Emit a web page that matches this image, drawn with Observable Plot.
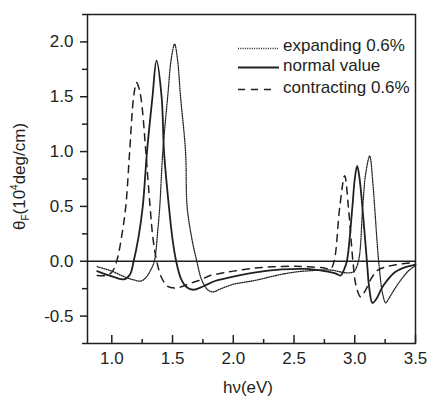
<!DOCTYPE html>
<html>
<head>
<meta charset="utf-8">
<script src="https://cdn.jsdelivr.net/npm/d3@7"></script>
<script src="https://cdn.jsdelivr.net/npm/@observablehq/plot@0.6"></script>
<style>
  html, body { margin: 0; padding: 0; background: #fff; }
  #chart svg { display: block; }
</style>
</head>
<body>
<div id="chart"></div>
<script>
// ---- data ----
const seriesNames = ["expanding 0.6%", "normal value", "contracting 0.6%"];

const expandingX = [0.88, 1.0, 1.1, 1.18, 1.24, 1.28, 1.32, 1.35, 1.38, 1.395, 1.42, 1.46, 1.49, 1.517, 1.54, 1.566, 1.607, 1.62, 1.66, 1.70, 1.74, 1.79, 1.83, 1.9, 2.0, 2.1, 2.2, 2.35, 2.5, 2.65, 2.8, 2.925, 2.99, 3.03, 3.065, 3.09, 3.123, 3.15, 3.164, 3.197, 3.23, 3.255, 3.28, 3.33, 3.38, 3.44, 3.5];
const expandingY = [-0.05, -0.09, -0.14, -0.17, -0.18, -0.15, -0.08, 0.0, 0.3, 0.5, 1.0, 1.5, 1.85, 1.98, 1.85, 1.5, 1.0, 0.5, 0.2, 0.0, -0.17, -0.26, -0.28, -0.25, -0.21, -0.19, -0.17, -0.13, -0.10, -0.085, -0.08, -0.105, -0.095, 0.0, 0.49, 0.8, 0.96, 0.7, 0.49, 0.0, -0.3, -0.38, -0.34, -0.25, -0.17, -0.09, -0.04];

const normalX = [0.88, 0.95, 1.02, 1.10, 1.15, 1.18, 1.22, 1.255, 1.29, 1.335, 1.368, 1.41, 1.43, 1.47, 1.50, 1.53, 1.57, 1.62, 1.67, 1.75, 1.85, 1.92, 2.0, 2.2, 2.4, 2.6, 2.75, 2.84, 2.884, 2.91, 2.935, 2.98, 3.0, 3.02, 3.04, 3.063, 3.10, 3.12, 3.145, 3.18, 3.22, 3.27, 3.33, 3.4, 3.5];
const normalY = [-0.09, -0.12, -0.145, -0.165, -0.12, 0.0, 0.22, 0.5, 1.0, 1.5, 1.83, 1.5, 1.0, 0.5, 0.2, 0.0, -0.16, -0.24, -0.26, -0.23, -0.18, -0.16, -0.14, -0.10, -0.075, -0.07, -0.09, -0.11, -0.13, -0.08, 0.0, 0.49, 0.75, 0.87, 0.75, 0.49, 0.0, -0.25, -0.38, -0.34, -0.25, -0.17, -0.10, -0.06, -0.03];

const contractingX = [0.88, 0.95, 1.0, 1.04, 1.08, 1.115, 1.147, 1.18, 1.204, 1.23, 1.25, 1.28, 1.315, 1.34, 1.37, 1.41, 1.46, 1.52, 1.58, 1.65, 1.73, 1.81, 1.9, 2.0, 2.2, 2.47, 2.6, 2.74, 2.80, 2.83, 2.876, 2.917, 2.948, 2.985, 3.01, 3.049, 3.09, 3.14, 3.19, 3.3, 3.5];
const contractingY = [-0.13, -0.13, -0.10, 0.0, 0.22, 0.5, 1.0, 1.5, 1.63, 1.55, 1.4, 1.0, 0.5, 0.2, 0.0, -0.15, -0.23, -0.245, -0.23, -0.2, -0.17, -0.13, -0.11, -0.09, -0.06, -0.045, -0.05, -0.06, -0.07, 0.0, 0.49, 0.78, 0.49, 0.0, -0.22, -0.325, -0.26, -0.15, -0.08, -0.04, -0.01];

const xTicks = [1.0, 1.5, 2.0, 2.5, 3.0, 3.5];
const xMinorTicks = [1.25, 1.75, 2.25, 2.75, 3.25];
const yTicks = [-0.5, 0.0, 0.5, 1.0, 1.5, 2.0];
const yMinorTicks = [-0.75, -0.25, 0.25, 0.75, 1.25, 1.75, 2.25];

// ---- build table ----
const toRows = (xs, ys, name) => xs.map((x, i) => ({x, y: ys[i], series: name}));
const expanding = toRows(expandingX, expandingY, seriesNames[0]);
const normal = toRows(normalX, normalY, seriesNames[1]);
const contracting = toRows(contractingX, contractingY, seriesNames[2]);

const ink = "#231f20";
const W = 429, H = 396;
const mL = 87, mR = 14, mT = 14, mB = 53;
const plotH = H - mT - mB;

const chart = Plot.plot({
  width: W,
  height: H,
  marginLeft: mL,
  marginRight: mR,
  marginTop: mT,
  marginBottom: mB,
  style: {fontFamily: "'Liberation Sans', Arial, Helvetica, sans-serif", fontSize: "17px", color: ink, background: "#fff"},
  x: {domain: [0.8, 3.5], label: null},
  y: {domain: [-0.75, 2.25], label: null},
  marks: [
    // curves
    Plot.line(expanding, {x: "x", y: "y", curve: "catmull-rom", stroke: ink, strokeWidth: 1.3, strokeDasharray: "1,1.3"}),
    Plot.line(normal, {x: "x", y: "y", curve: "catmull-rom", stroke: ink, strokeWidth: 1.8}),
    Plot.line(contracting, {x: "x", y: "y", curve: "catmull-rom", stroke: ink, strokeWidth: 1.5, strokeDasharray: "7,6"}),
    // zero line
    Plot.ruleY([0], {stroke: ink, strokeWidth: 1.3}),
    // frame
    Plot.frame({stroke: ink, strokeWidth: 1.5}),
    // x axis: labels + inward ticks
    Plot.axisX(xTicks, {anchor: "bottom", tickSize: 0, tickPadding: 8, tickFormat: d => d.toFixed(1), fill: ink}),
    Plot.tickX(xTicks, {x: d => d, insetTop: plotH - 8, stroke: ink, strokeWidth: 1.5}),
    Plot.tickX(xMinorTicks, {x: d => d, insetTop: plotH - 4, stroke: ink, strokeWidth: 1.5}),
    // y axis: outward ticks
    Plot.axisY(yTicks, {anchor: "left", tickSize: 7, tickPadding: 7, tickFormat: d => d.toFixed(1), stroke: ink, strokeWidth: 1.5, fill: ink}),
    Plot.axisY(yMinorTicks, {anchor: "left", tickSize: 5, tickFormat: () => "", stroke: ink, strokeWidth: 1.5})
  ]
});

document.getElementById("chart").appendChild(chart);

// ---- axis titles and legend ----
const svg = d3.select(chart);
const font = "'Liberation Sans', Arial, Helvetica, sans-serif";

// x title
svg.append("text")
  .attr("x", (mL + (W - mR)) / 2 - 3)
  .attr("y", 393)
  .attr("text-anchor", "middle")
  .attr("font-family", font)
  .attr("font-size", 17)
  .attr("fill", ink)
  .text("hν(eV)");

// y title with subscript / superscript
const yt = svg.append("text")
  .attr("transform", `translate(25,${(mT + (H - mB)) / 2 - 2}) rotate(-90)`)
  .attr("text-anchor", "middle")
  .attr("font-family", font)
  .attr("font-size", 17)
  .attr("fill", ink);
yt.append("tspan").text("θ");
yt.append("tspan").attr("font-size", 10).attr("dy", "4").text("F");
yt.append("tspan").attr("dy", "-4").text("(10");
yt.append("tspan").attr("font-size", 10).attr("dy", "-7").text("4");
yt.append("tspan").attr("dy", "7").text("deg/cm)");

// legend
const legend = [
  {name: seriesNames[0], dash: "1,1.3", sw: 1.3, ly: 48.5, ty: 51, x2: 278},
  {name: seriesNames[1], dash: null, sw: 1.8, ly: 67.5, ty: 71, x2: 279},
  {name: seriesNames[2], dash: "7,6", sw: 1.5, ly: 89.5, ty: 93, x2: 274}
];
const lg = svg.append("g").attr("text-anchor", "start");
legend.forEach(d => {
  lg.append("line")
    .attr("x1", 238).attr("x2", d.x2)
    .attr("y1", d.ly).attr("y2", d.ly)
    .attr("stroke", ink)
    .attr("stroke-width", d.sw)
    .attr("stroke-dasharray", d.dash);
  lg.append("text")
    .attr("x", 283).attr("y", d.ty)
    .attr("text-anchor", "start")
    .attr("font-family", font)
    .attr("font-size", 17)
    .attr("fill", ink)
    .text(d.name);
});
</script>
</body>
</html>
